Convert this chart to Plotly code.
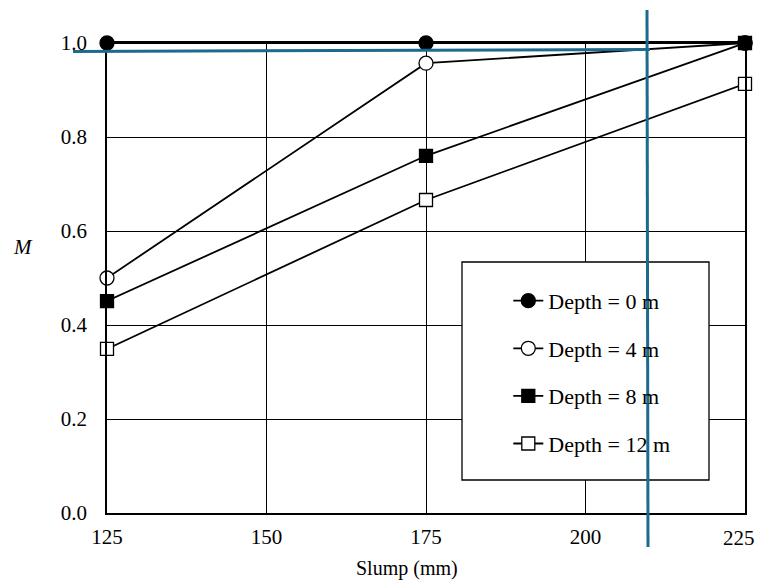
import plotly.graph_objects as go

slump = [125, 175, 225]
depth0 = [1.0, 1.0, 1.0]
depth4 = [0.50, 0.957, 1.0]
depth8 = [0.451, 0.76, 1.0]
depth12 = [0.349, 0.666, 0.913]
names = ["Depth = 0 m", "Depth = 4 m", "Depth = 8 m", "Depth = 12 m"]
x_ticks = [125, 150, 175, 200, 225]
x_ticktext = ["125", "150", "175", "200", "225"]
y_ticks = [0.0, 0.2, 0.4, 0.6, 0.8, 1.0]

FONT = "Liberation Serif, Times New Roman, serif"

styles = [
    dict(symbol="circle", color="black"),
    dict(symbol="circle", color="white"),
    dict(symbol="square", color="black"),
    dict(symbol="square", color="white"),
]

fig = go.Figure()
for i, (name, ys) in enumerate(zip(names, [depth0, depth4, depth8, depth12])):
    st = styles[i]
    fig.add_trace(go.Scatter(
        x=slump, y=ys, name=name, mode="lines+markers",
        line=dict(color="black", width=1.8),
        marker=dict(symbol=st["symbol"], size=14 if st["symbol"] == "circle" else 13,
                    color=st["color"], line=dict(color="black", width=1.3)),
        cliponaxis=False, legendgroup=name,
    ))

fig.update_layout(
    width=758, height=581,
    margin=dict(l=107, r=13, t=43, b=68),
    paper_bgcolor="white", plot_bgcolor="white",
    font=dict(family=FONT, size=21, color="black"),
    showlegend=True,
    legend=dict(x=0.629, y=0.496, xanchor="left", yanchor="top",
                bgcolor="rgba(0,0,0,0)", borderwidth=0,
                font=dict(family=FONT, size=22, color="black"),
                tracegroupgap=16, itemwidth=30),
    xaxis=dict(range=[125, 225], tickvals=x_ticks[:-1], ticktext=x_ticktext[:-1],
               showgrid=True, gridcolor="black", gridwidth=1.1,
               showline=True, linecolor="black", linewidth=1.8, mirror=True,
               ticks="", zeroline=False, ticklabelstandoff=4, automargin=False,
               tickfont=dict(family=FONT, size=21)),
    yaxis=dict(range=[0, 1], tickvals=y_ticks, tickformat=".1f",
               showgrid=True, gridcolor="black", gridwidth=1.1,
               showline=True, linecolor="black", linewidth=1.8, mirror=True,
               ticks="", zeroline=False, ticklabelstandoff=14, automargin=False,
               tickfont=dict(family=FONT, size=21)),
)

# last x tick label sits slightly left of its gridline in the reference
fig.add_annotation(text=x_ticktext[-1], xref="paper", yref="paper",
                   x=(739 - 107) / 638, y=(513 - 538) / 470,
                   showarrow=False, font=dict(family=FONT, size=21), xanchor="center", yanchor="middle")

fig.add_annotation(text="<i>M</i>", xref="paper", yref="paper", x=(23 - 107) / 638, y=(513 - 247) / 470,
                   showarrow=False, font=dict(family=FONT, size=21), xanchor="center", yanchor="middle")
fig.add_annotation(text="Slump (mm)", xref="paper", yref="paper", x=(407 - 107) / 638, y=(513 - 568) / 470,
                   showarrow=False, font=dict(family=FONT, size=20), xanchor="center", yanchor="middle")

# legend box
fig.add_shape(type="rect", xref="paper", yref="paper",
              x0=(462 - 107) / 638, x1=(709 - 107) / 638,
              y0=(513 - 480) / 470, y1=(513 - 262) / 470,
              fillcolor="white", line=dict(color="black", width=1.3), layer="above")

BLUE = "#1c6a8d"
fig.add_shape(type="line", xref="paper", yref="paper",
              x0=(73 - 107) / 638, x1=(650 - 107) / 638,
              y0=(513 - 51.5) / 470, y1=(513 - 49.5) / 470,
              line=dict(color=BLUE, width=3), layer="above")
fig.add_shape(type="line", xref="paper", yref="paper",
              x0=(647 - 107) / 638, x1=(648 - 107) / 638,
              y0=(513 - 10) / 470, y1=(513 - 547) / 470,
              line=dict(color=BLUE, width=3), layer="above")

fig.write_html("out.html")
